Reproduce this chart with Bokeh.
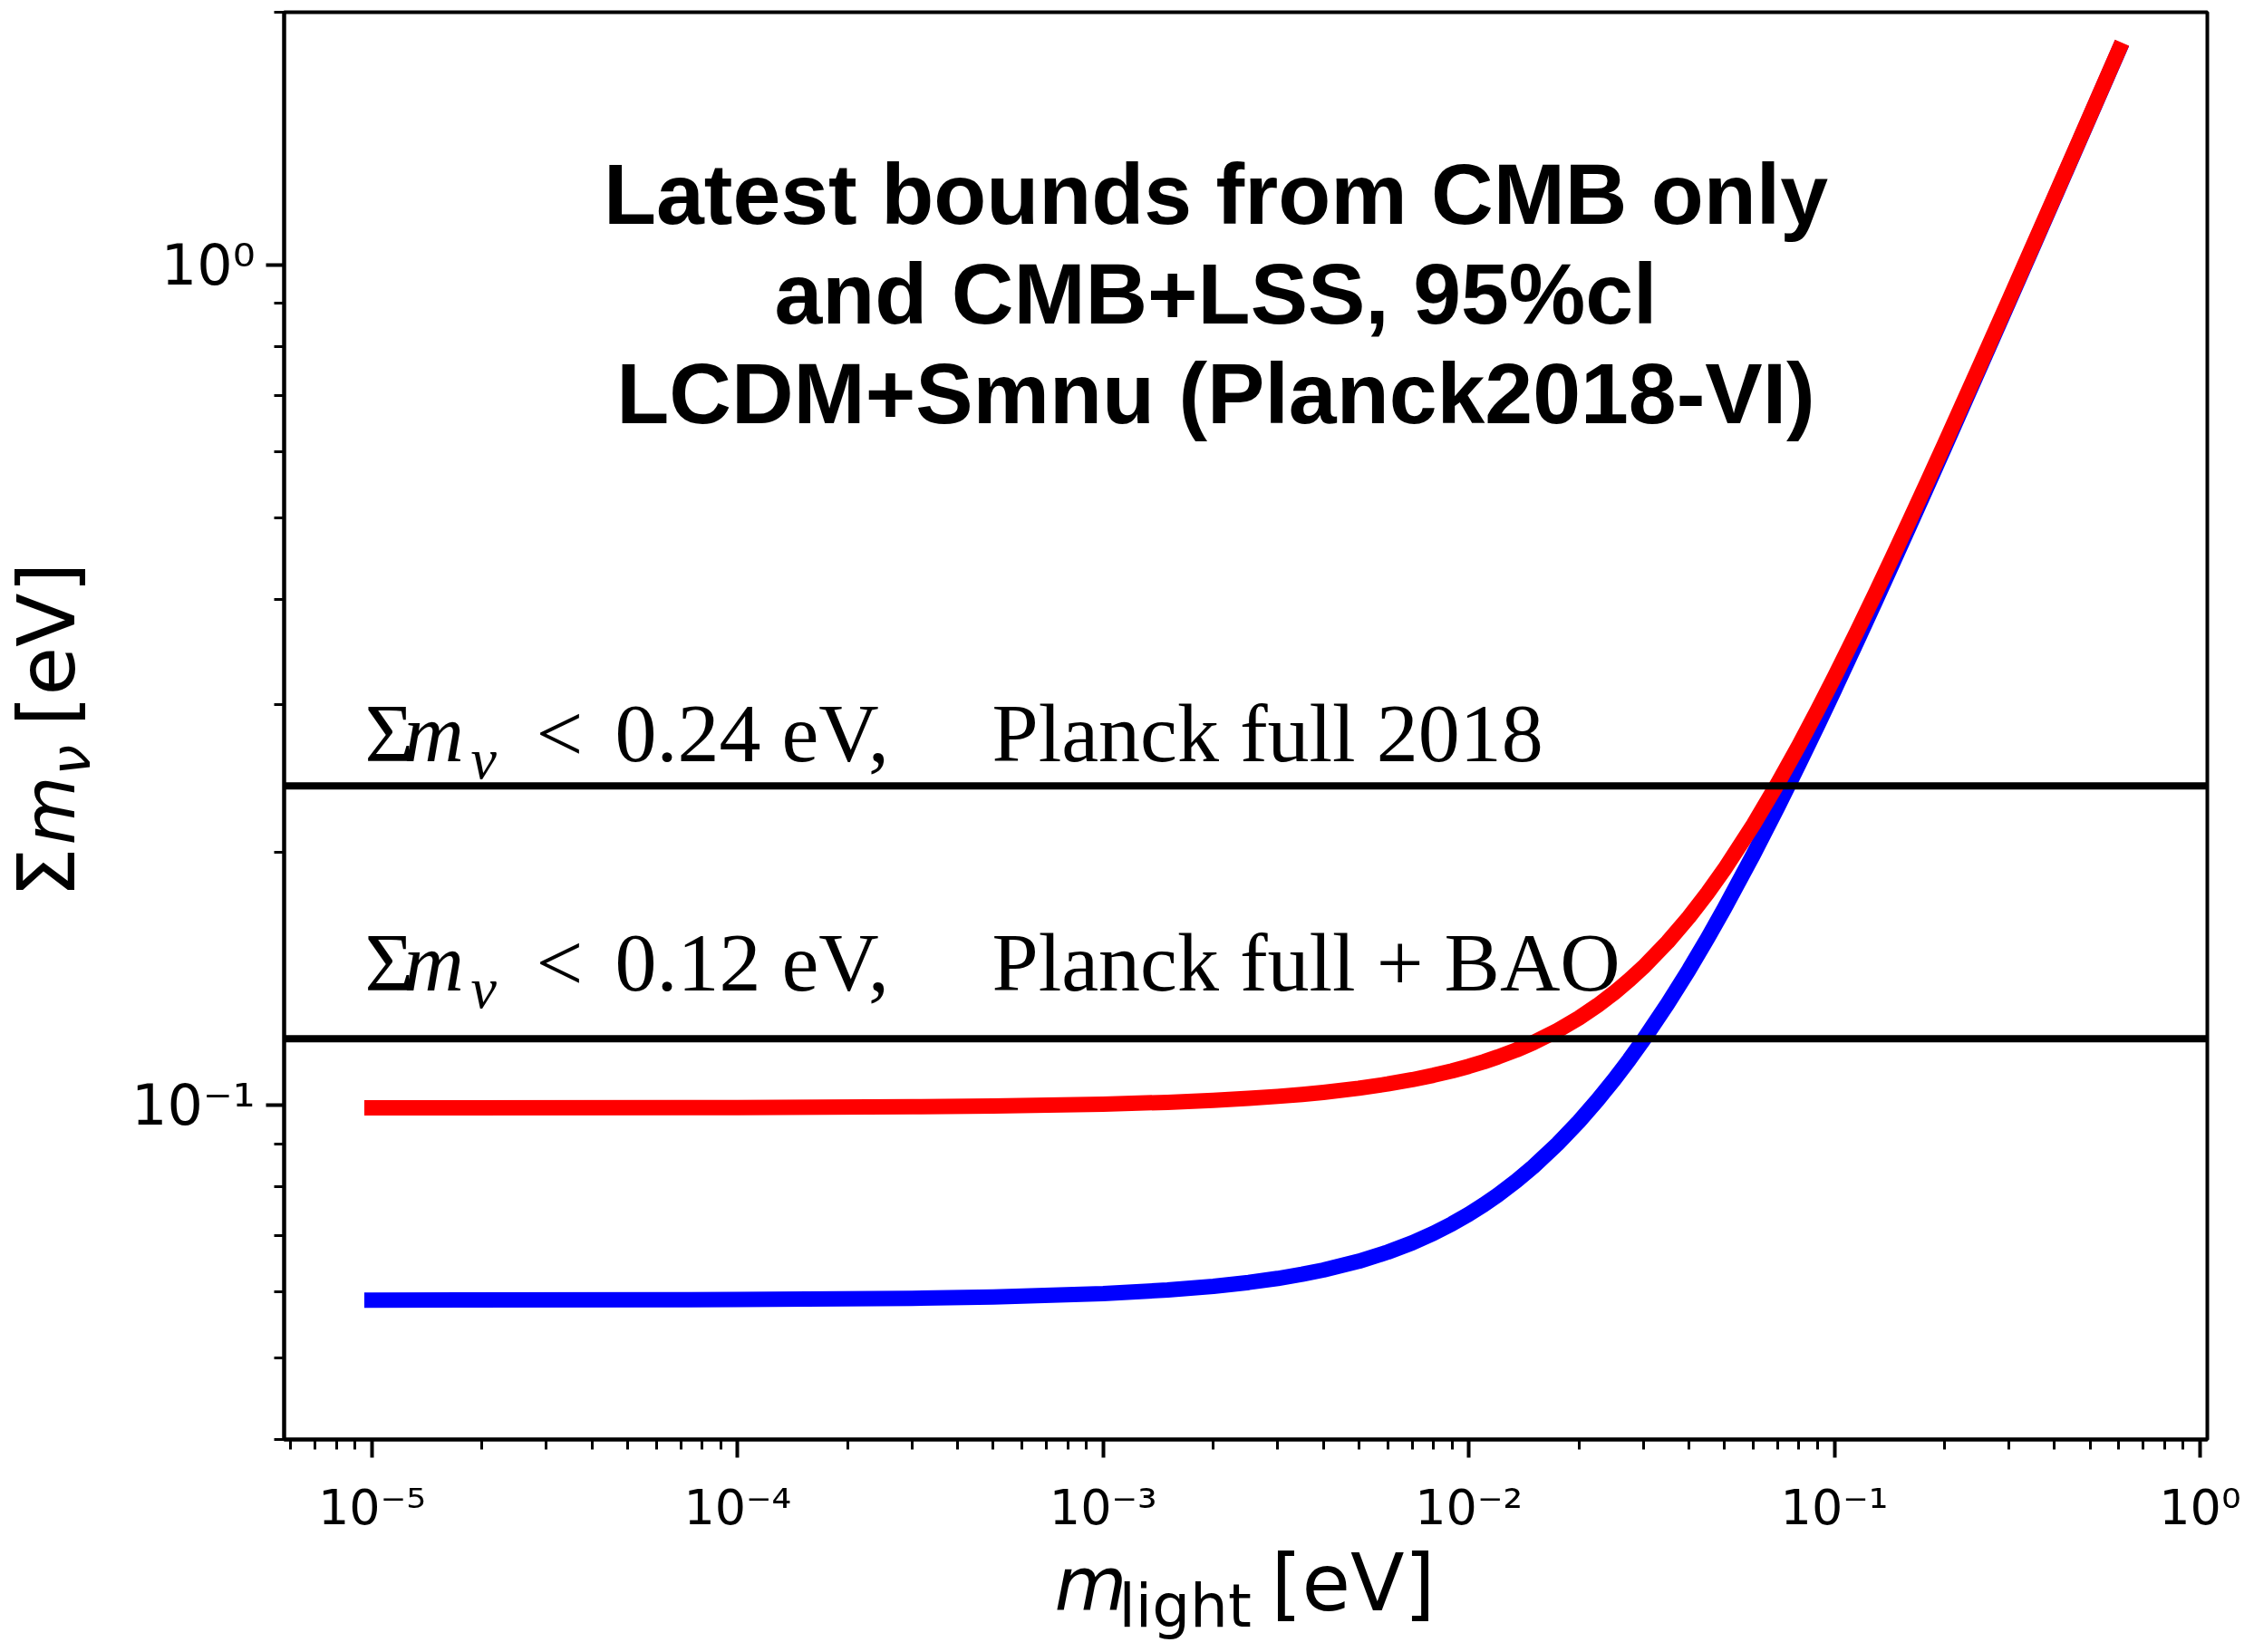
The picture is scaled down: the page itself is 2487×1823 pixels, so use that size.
import math

from bokeh.plotting import figure
from bokeh.layouts import row, column
from bokeh.models import Label, Span, FixedTicker, CustomJSTickFormatter, Range1d
from bokeh.embed import file_html
from bokeh.resources import INLINE

# lightest neutrino mass [eV]
m_light = [1e-5, 1e-4, 3e-4, 5e-4, 1e-3, 1.5e-3, 2e-3, 2.5e-3, 3e-3, 3.5e-3, 4e-3, 5e-3,
           6e-3, 7e-3, 8e-3, 9e-3, 1e-2, 1.1e-2, 1.2e-2, 1.35e-2, 1.5e-2, 1.75e-2, 2e-2,
           2.25e-2, 2.5e-2, 2.75e-2, 3e-2, 3.5e-2, 4e-2, 4.5e-2, 5e-2, 6e-2, 7e-2, 8e-2,
           9e-2, 0.1, 0.115, 0.13, 0.145, 0.16, 0.18, 0.2, 0.25, 0.3, 0.35, 0.4, 0.5, 0.6]
# sum of neutrino masses [eV], normal ordering
sum_normal = [0.05861, 0.05870, 0.05891, 0.05912, 0.05967, 0.06026, 0.06087, 0.06152,
              0.06220, 0.06291, 0.06365, 0.06520, 0.06685, 0.06858, 0.07038, 0.07225,
              0.07418, 0.07616, 0.07819, 0.08130, 0.08449, 0.08997, 0.09562, 0.10142,
              0.10734, 0.11338, 0.11952, 0.13207, 0.14495, 0.15808, 0.17145, 0.19872,
              0.22655, 0.25480, 0.28337, 0.31217, 0.35572, 0.39957, 0.44363, 0.48786,
              0.54702, 0.60634, 0.75510, 0.90426, 1.05366, 1.20321, 1.50257, 1.80214]
# sum of neutrino masses [eV], inverted ordering
sum_inverted = [0.09926, 0.09936, 0.09956, 0.09976, 0.10028, 0.10080, 0.10134, 0.10188,
                0.10244, 0.10300, 0.10358, 0.10476, 0.10598, 0.10724, 0.10854, 0.10987,
                0.11125, 0.11266, 0.11412, 0.11636, 0.11869, 0.12275, 0.12701, 0.13148,
                0.13614, 0.14098, 0.14598, 0.15646, 0.16748, 0.17898, 0.19090, 0.21573,
                0.24162, 0.26829, 0.29555, 0.32328, 0.36550, 0.40830, 0.45152, 0.49504,
                0.55343, 0.61213, 0.75976, 0.90816, 1.05700, 1.20613, 1.50491, 1.80410]

# cosmological upper bounds [eV]
bound_values = [0.24, 0.12]
bound_numbers = ["0.24", "0.12"]
bound_sources = ["Planck full 2018", "Planck full + BAO"]

title_lines = ["Latest bounds from CMB only",
               "and CMB+LSS, 95%cl",
               "LCDM+Smnu (Planck2018-VI)"]

x_major = [1e-5, 1e-4, 1e-3, 1e-2, 1e-1, 1e0]
x_minor = [k * 10.0 ** d for d in range(-6, 0) for k in range(2, 10)]
y_major = [0.1, 1.0]
y_minor = [k * 10.0 ** d for d in (-2, -1, 0) for k in range(2, 10)]

# page geometry (pixels)
W, H = 2487, 1823
YL = 130            # strip holding the vertical axis title
MH = 1697           # height of the main plot
FL, FR, FT, FB = 313, 2435, 13, 1589   # plot frame edges on the page
BASE = 0.36         # baseline correction, fraction of the font size

p = figure(width=W - YL, height=MH, x_axis_type="log", y_axis_type="log",
           x_range=(5.75e-6, 1.047), y_range=(0.04, 2.0),
           output_backend="svg", toolbar_location=None,
           min_border_left=FL - YL, min_border_right=W - FR,
           min_border_top=FT, min_border_bottom=MH - FB)
p.background_fill_color = "white"
p.border_fill_color = "white"
p.grid.visible = False
p.outline_line_color = "black"
p.outline_line_width = 4

sup_fmt = CustomJSTickFormatter(code="""
const sup = {"-": "\u207b", "0": "\u2070", "1": "\u00b9", "2": "\u00b2", "3": "\u00b3",
             "4": "\u2074", "5": "\u2075", "6": "\u2076", "7": "\u2077", "8": "\u2078", "9": "\u2079"};
const e = Math.round(Math.log10(tick));
return "10" + String(e).split("").map(c => sup[c]).join("");
""")

p.xaxis.ticker = FixedTicker(ticks=x_major, minor_ticks=x_minor)
p.yaxis.ticker = FixedTicker(ticks=y_major, minor_ticks=y_minor)
for ax in (p.xaxis[0], p.yaxis[0]):
    ax.formatter = sup_fmt
    ax.axis_line_width = 4
    ax.axis_line_color = "black"
    ax.major_tick_line_width = 4
    ax.major_tick_out = 20
    ax.major_tick_in = 0
    ax.minor_tick_line_width = 3
    ax.minor_tick_out = 11
    ax.minor_tick_in = 0
    ax.major_label_text_font = "DejaVu Sans"
    ax.major_label_text_color = "black"
    ax.axis_label = None
p.xaxis.major_label_text_font_size = "54px"
p.yaxis.major_label_text_font_size = "62px"
p.xaxis.major_label_standoff = 23
p.yaxis.major_label_standoff = 12

# ordering curves
p.line(m_light, sum_normal, line_color="#0000ff", line_width=17, line_cap="square",
       line_join="round")
p.line(m_light, sum_inverted, line_color="#ff0000", line_width=17, line_cap="square",
       line_join="round")

# bounds
for b in bound_values:
    p.add_layout(Span(location=b, dimension="width", line_color="black", line_width=8))


def place(text, cx, cy, size, font, style="normal", align="left"):
    """Text inside the main plot, baseline at page pixel (cx, cy)."""
    cy = cy - BASE * size
    p.add_layout(Label(x=cx - FL, y=FB - cy, x_units="screen", y_units="screen",
                       text=text, text_font=font, text_font_size=f"{size}px",
                       text_font_style=style, text_align=align,
                       text_baseline="alphabetic", text_color="black"))


# headline
for line, base in zip(title_lines, [249, 359, 469]):
    place(line, 1341, base, 95, "Liberation Sans", "bold", align="center")

# bound annotations
serif = "Liberation Serif"
for num, src, base in zip(bound_numbers, bound_sources, [843, 1096]):
    place("\u03a3", 402, base, 92, serif)
    place("m", 445, base, 92, serif, "italic")
    place("\u03bd", 519, base + 18, 64, serif, "italic")
    place("<", 591, base, 92, serif)
    place(num + " eV,", 678, base, 92, serif)
    place(src, 1094, base, 92, serif)

# horizontal axis title, in a strip below the main plot whose frame lines up
# with the main frame, so its x range is expressed in page pixels
xs = figure(width=W - YL, height=H - MH, x_range=Range1d(FL, FR),
            y_range=Range1d(H, MH), x_axis_type=None, y_axis_type=None,
            output_backend="svg", toolbar_location=None, min_border=0,
            min_border_left=FL - YL, min_border_right=W - FR)
xs.outline_line_color = None
xs.background_fill_color = "white"
xs.border_fill_color = "white"


def xput(text, cx, cy, size, style="normal"):
    xs.add_layout(Label(x=cx, y=cy - BASE * size, text=text, text_font="DejaVu Sans",
                        text_font_size=f"{size}px", text_font_style=style,
                        text_baseline="alphabetic", text_color="black"))


xput("m", 1163, 1778, 82, "italic")
xput("light", 1234, 1796, 66)
xput("[eV]", 1402, 1778, 87)

# vertical axis title, left of the main plot
ys = figure(width=YL, height=H, x_range=Range1d(0, YL), y_range=Range1d(H, 0),
            x_axis_type=None, y_axis_type=None, output_backend="svg",
            toolbar_location=None, min_border=0)
ys.outline_line_color = None
ys.background_fill_color = "white"
ys.border_fill_color = "white"


def yput(text, cx, cy, size, style="normal"):
    ys.add_layout(Label(x=cx - BASE * size, y=cy, text=text, text_font="DejaVu Sans",
                        text_font_size=f"{size}px", text_font_style=style,
                        text_baseline="alphabetic", angle=math.pi / 2,
                        text_color="black"))


yput("\u03a3", 83, 990, 87)
yput("m", 83, 932, 78, "italic")
yput("\u03bd", 99, 855, 60, "italic")
yput("[eV]", 83, 801, 87)

page = row(ys, column(p, xs, spacing=0), spacing=0)

open("out.html", "w").write(file_html(page, INLINE))
